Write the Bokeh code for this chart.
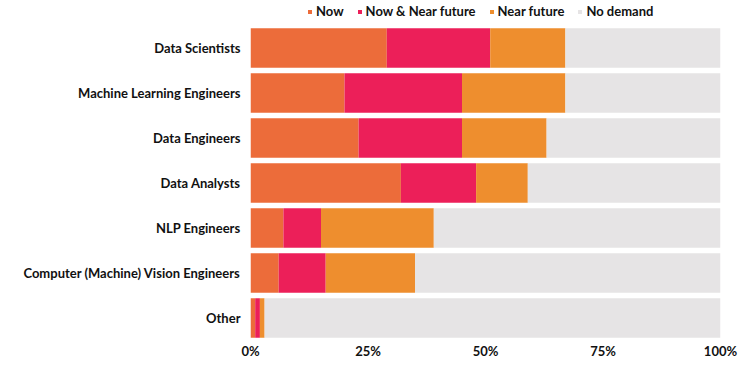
from bokeh.plotting import figure
from bokeh.models import ColumnDataSource, Legend, LegendItem, FixedTicker, Range1d
from bokeh.embed import file_html
from bokeh.resources import INLINE

roles = ["Data Scientists", "Machine Learning Engineers", "Data Engineers", "Data Analysts",
         "NLP Engineers", "Computer (Machine) Vision Engineers", "Other"]
now = [29, 20, 23, 32, 7, 6, 1]
now_near = [22, 25, 22, 16, 8, 10, 1]
near = [16, 22, 18, 11, 24, 19, 1]
no_demand = [33, 33, 37, 41, 61, 65, 97]
series = ["now", "now_near", "near", "no_demand"]
series_labels = ["Now", "Now & Near future", "Near future", "No demand"]
colors = ["#EC6C3A", "#EC1F59", "#EE8E2E", "#E6E4E5"]
tick_values = [0, 25, 50, 75, 100]
tick_labels = ["0%", "25%", "50%", "75%", "100%"]

FONT = "Lato"

n = len(roles)
ypos = [n - 1 - i for i in range(n)]  # first role at top
src = ColumnDataSource(dict(y=ypos, now=now, now_near=now_near, near=near, no_demand=no_demand))

# frame extends to top of figure so the legend can sit inside it above the bars
p = figure(x_range=Range1d(0, 100), y_range=Range1d(-0.5, n - 0.5 + 25 / 45),
           width=745, height=368,
           min_border_left=250, min_border_right=25, min_border_top=0, min_border_bottom=28,
           output_backend="svg", toolbar_location=None)

rends = p.hbar_stack(series, y="y", height=0.875, color=colors, source=src, line_color=None)

p.outline_line_color = None
p.grid.grid_line_color = None

p.xaxis.ticker = FixedTicker(ticks=tick_values)
p.xaxis.major_label_overrides = {v: l for v, l in zip(tick_values, tick_labels)}
p.yaxis.ticker = FixedTicker(ticks=ypos)
p.yaxis.major_label_overrides = {yv: r for yv, r in zip(ypos, roles)}
for ax in (p.xaxis, p.yaxis):
    ax.axis_line_color = None
    ax.major_tick_line_color = None
    ax.minor_tick_line_color = None
    ax.major_tick_out = 0
    ax.major_tick_in = 0
    ax.minor_tick_out = 0
    ax.major_label_text_font = FONT
    ax.major_label_text_font_style = "bold"
    ax.major_label_text_font_size = "13px"
    ax.major_label_text_color = "#111111"
p.xaxis.major_label_standoff = 2
p.yaxis.major_label_standoff = 10

legend = Legend(items=[LegendItem(label=l, renderers=[r]) for l, r in zip(series_labels, rends)],
                orientation="horizontal", location=(57, 321),
                glyph_width=5, glyph_height=5, label_standoff=4, spacing=13,
                padding=0, margin=0, border_line_color=None, background_fill_alpha=0,
                label_text_font=FONT, label_text_font_style="bold", label_text_font_size="13px",
                label_height=14, label_text_color="#111111")
p.add_layout(legend, "center")

open("out.html", "w").write(file_html(p, INLINE))
